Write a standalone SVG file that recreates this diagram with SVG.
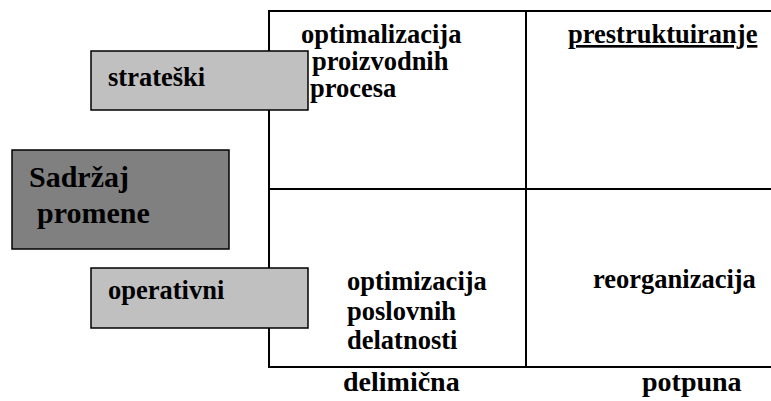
<svg xmlns="http://www.w3.org/2000/svg" width="771" height="401" viewBox="0 0 771 401">
<style>
text{font-family:"Liberation Serif","Times New Roman",serif;font-weight:bold;fill:#000}
.t{font-size:26.5px}
.ax{font-size:28px}
.big{font-size:30px}
.g{stroke:#000;stroke-width:2;fill:none}
.lb{fill:#c0c0c0;stroke:#000;stroke-width:1.5}
.db{fill:#808080;stroke:#000;stroke-width:1.5}
</style>
<rect width="771" height="401" fill="#fff"/>
<g id="grid">
<line class="g" x1="269" y1="11" x2="771" y2="11"/>
<line class="g" x1="269" y1="189" x2="771" y2="189"/>
<line class="g" x1="269" y1="367" x2="771" y2="367"/>
<line class="g" x1="269" y1="10" x2="269" y2="368"/>
<line class="g" x1="526" y1="10" x2="526" y2="368"/>
</g>
<g id="connectors"/>
<g id="q-top-left">
<text class="t" x="301" y="43">optimalizacija</text>
<text class="t" x="312" y="70">proizvodnih</text>
<text class="t" x="310" y="97">procesa</text>
</g>
<g id="q-top-right">
<text class="t" x="568" y="43" text-decoration="underline">prestruktuiranje</text>
</g>
<g id="q-bottom-left">
<text class="t" x="347" y="290">optimizacija</text>
<text class="t" x="347" y="320">poslovnih</text>
<text class="t" x="347" y="349">delatnosti</text>
</g>
<g id="q-bottom-right">
<text class="t" x="593" y="288">reorganizacija</text>
</g>
<g id="strateski">
<rect class="lb" x="91" y="51" width="217" height="59"/>
<text class="t" x="108" y="86">strateški</text>
</g>
<g id="sadrzaj">
<rect class="db" x="12" y="150" width="217" height="99"/>
<text class="big" x="29" y="187">Sadržaj</text>
<text class="big" x="37" y="223">promene</text>
</g>
<g id="operativni">
<rect class="lb" x="91" y="268" width="217" height="60"/>
<text class="t" x="108" y="299">operativni</text>
</g>
<g id="axis-x">
<text class="ax" x="343" y="391">delimična</text>
<text class="ax" x="642" y="391">potpuna</text>
</g>
</svg>
